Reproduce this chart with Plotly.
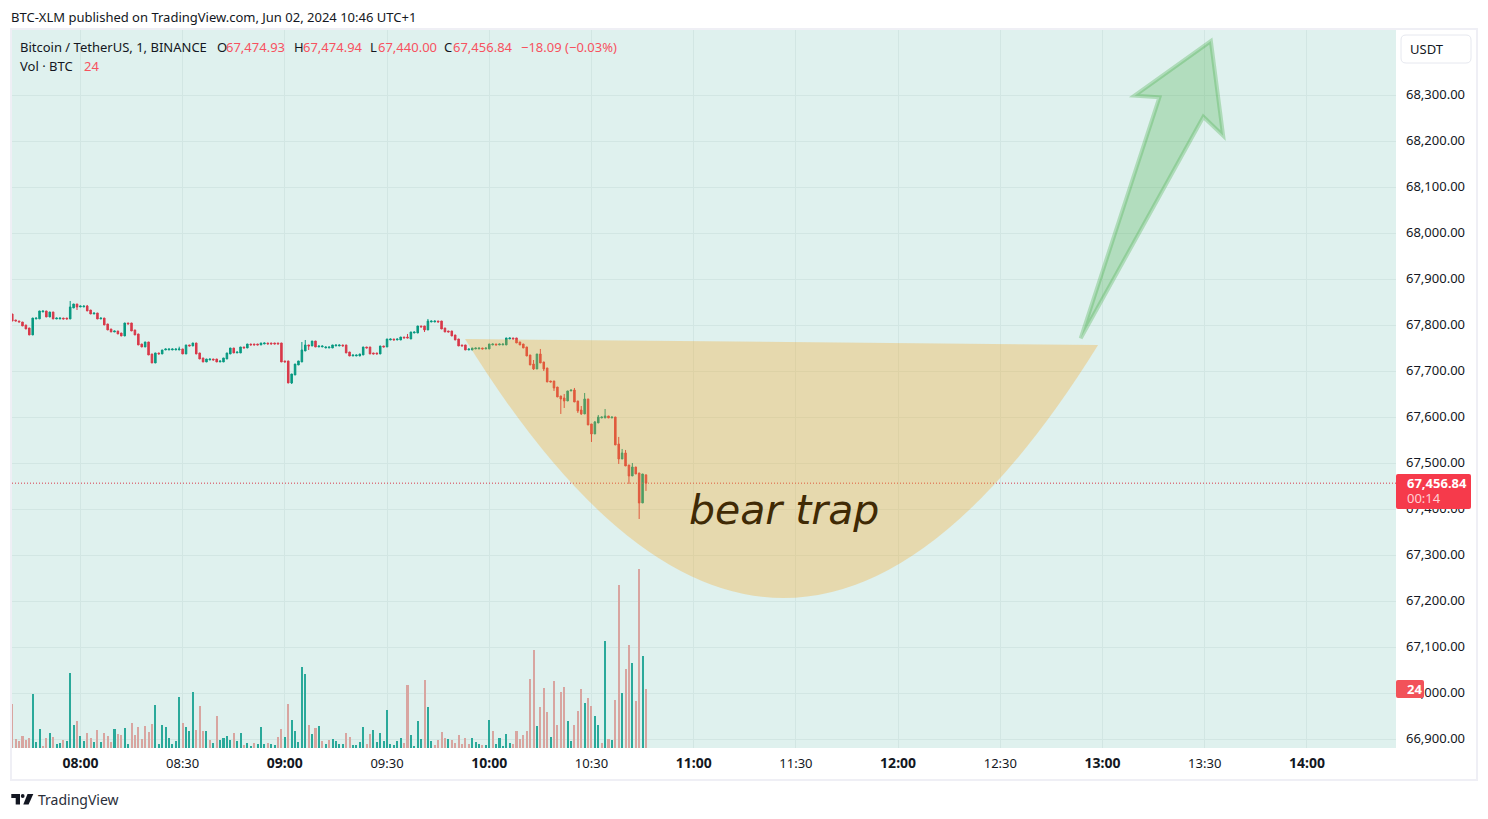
import plotly.graph_objects as go

# First bar is 07:40 (minute of day 460); one bar per minute
first_bar_minute = 460

open_prices = [
67824.6,67811.6,67809.4,67807.2,67800.7,67794.2,67779.0,67813.8,67814.0,67829.0,
67831.2,67818.1,67829.0,67813.8,67813.8,67815.9,67815.9,67813.8,67837.7,67846.4,
67839.9,67839.9,67842.0,67833.3,67824.6,67826.8,67813.8,67815.9,67802.9,67792.0,
67785.5,67787.7,67783.3,67776.8,67805.1,67805.1,67789.9,67781.2,67759.4,67752.9,
67763.8,67737.7,67718.1,67739.9,67737.7,67746.4,67746.4,67746.4,67746.4,67746.4,
67748.6,67737.7,67757.3,67755.1,67761.6,67739.9,67729.0,67720.3,67724.6,67726.8,
67726.8,67720.3,67720.3,67726.8,67737.7,67750.7,67739.9,67739.9,67752.9,67750.7,
67759.4,67759.4,67759.4,67757.3,67759.4,67761.6,67761.6,67761.6,67761.6,67761.6,
67722.5,67722.5,67674.6,67692.0,67713.8,67720.3,67744.2,67757.3,67755.1,67765.9,
67752.9,67752.9,67750.7,67750.7,67750.7,67755.1,67755.1,
67757.3,67757.3,67742.0,67733.3,67733.3,67733.3,67735.5,67752.9,67752.9,67739.9,
67739.9,67737.7,67755.1,67752.9,67768.1,67770.3,67768.1,67768.1,67774.6,67774.6,
67770.3,67783.3,67783.3,67798.6,67798.6,67789.9,67807.2,67807.2,67809.4,67809.4,
67794.2,67787.7,67787.7,67779.0,67770.3,67757.3,67757.3,67746.4,67746.4,67748.6,
67748.6,67750.7,67748.6,67748.6,67757.3,67759.4,67757.3,67757.3,67757.3,67770.3,
67772.5,67772.5,67763.8,67759.4,67752.9,67735.5,67715.9,67705.1,67737.7,67720.3,
67707.3,67679.0,67679.0,67665.9,67646.4,67642.0,67635.5,67657.3,67659.4,67635.5,
67616.0,67607.3,67639.9,67585.5,67563.8,67587.7,67598.6,67598.6,67602.9,67598.6,
67600.7,67542.0,67509.4,67522.5,67496.4,67472.5,67492.0,67479.0,67413.8,67474.93]

close_prices = [
67809.4,67809.4,67807.2,67798.6,67792.0,67779.0,67815.9,67815.9,67831.2,67831.2,
67818.1,67829.0,67813.8,67815.9,67815.9,67813.8,67813.8,67839.9,67846.4,67839.9,
67842.0,67842.0,67831.2,67824.6,67826.8,67813.8,67815.9,67800.7,67789.9,67785.5,
67787.7,67781.2,67776.8,67805.1,67802.9,67787.7,67779.0,67757.3,67752.9,67763.8,
67735.5,67718.1,67739.9,67737.7,67746.4,67748.6,67748.6,67748.6,67748.6,67748.6,
67737.7,67757.3,67755.1,67761.6,67737.7,67726.8,67720.3,67726.8,67726.8,67724.6,
67720.3,67722.5,67729.0,67739.9,67750.7,67739.9,67742.0,67752.9,67750.7,67759.4,
67757.3,67757.3,67757.3,67761.6,67761.6,67759.4,67759.4,67759.4,67759.4,67720.3,
67720.3,67674.6,67694.2,67715.9,67722.5,67746.4,67757.3,67755.1,67765.9,67752.9,
67755.1,67755.1,67752.9,67752.9,67757.3,67757.3,67757.3,
67755.1,67739.9,67733.3,67735.5,67735.5,67737.7,67752.9,67750.7,67737.7,67737.7,
67737.7,67755.1,67752.9,67770.3,67770.3,67768.1,67770.3,67774.6,67772.5,67772.5,
67785.5,67785.5,67798.6,67796.4,67789.9,67809.4,67809.4,67809.4,67807.2,67792.0,
67785.5,67785.5,67776.8,67768.1,67755.1,67755.1,67746.4,67748.6,67750.7,67750.7,
67750.7,67748.6,67750.7,67759.4,67759.4,67757.3,67759.4,67759.4,67772.5,67772.5,
67770.3,67761.6,67757.3,67750.7,67733.3,67713.8,67705.1,67737.7,67718.1,67705.1,
67676.8,67676.8,67663.8,67644.2,67639.9,67635.5,67657.3,67659.4,67633.3,67613.8,
67607.3,67639.9,67583.3,67563.8,67589.9,67600.7,67600.7,67602.9,67598.6,67600.7,
67539.9,67509.4,67522.5,67494.2,67472.5,67492.0,67476.8,67413.8,67476.8,67456.84]

# wicks that stick out of the body: bar index -> price
upper_wicks = {17:67852.9,22:67844.2,49:67753.6,85:67763.8,86:67768.1,116:67781.2,
122:67813.8,153:67724.6,155:67748.6,162:67650.7,165:67663.8,167:67624.6,168:67652.9,
171:67592.0,172:67605.1,174:67618.1,178:67557.3,179:67531.2,180:67529.0,182:67500.7}
lower_wicks = {19:67833.3,82:67672.5,87:67746.4,121:67785.5,153:67702.9,156:67700.7,
159:67657.3,161:67607.3,162:67620.3,166:67609.4,167:67605.1,170:67546.4,178:67498.6,
181:67455.1,184:67379.0,186:67440.0}

volumes = [
17.9,3.7,2.8,4.9,3.3,4.1,22.0,2.4,7.7,0.8,4.1,6.1,4.5,1.6,2.0,3.3,2.8,30.5,9.3,11.0,
4.9,2.8,6.1,4.1,2.4,7.3,2.4,6.1,4.9,2.4,7.7,5.7,5.3,8.1,1.6,10.2,5.3,8.5,3.7,8.9,
6.5,9.8,17.5,1.6,9.3,8.5,4.1,1.6,2.8,20.7,10.2,8.5,6.9,22.8,7.3,17.1,6.9,6.9,3.3,2.0,
13.0,3.3,4.1,4.9,3.3,6.1,2.8,6.1,1.2,2.0,0.8,2.0,1.6,8.5,1.6,2.0,1.6,1.2,4.5,7.7,
4.5,17.9,11.4,6.9,2.4,32.9,30.1,9.3,5.7,8.1,8.9,2.8,1.6,3.3,3.7,2.8,1.6,
1.6,6.1,4.5,1.2,1.2,2.4,8.5,1.6,5.7,7.3,2.4,6.1,2.8,15.4,1.6,1.2,2.8,4.1,2.0,25.6,
5.3,0.8,11.0,3.7,27.6,16.7,2.8,1.2,3.3,6.5,4.1,3.7,3.3,2.0,5.3,1.6,4.1,1.6,4.1,2.4,
1.6,1.2,1.2,11.4,6.9,1.6,4.1,0.8,5.7,2.0,1.6,6.9,3.7,5.3,6.9,28.0,39.8,8.9,16.7,24.4,
14.6,4.5,27.2,9.3,22.8,24.8,11.0,2.8,9.3,15.0,24.0,18.3,20.3,17.1,13.0,9.3,2.0,43.5,3.7,3.3,
19.5,66.3,22.4,32.1,41.9,34.6,19.1,72.8,37.4,24.0]

# indices of the volume bars drawn in green
volume_green_bars = {6,7,8,11,13,14,16,17,18,20,21,24,26,30,33,34,42,43,44,45,46,47,48,49,51,52,53,57,59,
 61,62,63,64,66,67,69,70,72,73,74,76,77,80,82,83,84,85,86,88,90,92,94,95,96,97,100,101,102,103,
 106,107,108,109,110,111,112,113,114,117,118,119,120,122,123,128,135,136,137,139,140,142,143,144,145,146,
 154,158,163,164,168,171,172,174,176,179,182,185}

price_ticks = [66900,67000,67100,67200,67300,67400,67500,67600,67700,67800,67900,68000,68100,68200,68300]
time_tick_minutes = [480,510,540,570,600,630,660,690,720,750,780,810,840]
hour_style = '<span style="font-size:14px"><b>%s</b></span>'
time_tick_labels = [hour_style % "08:00","08:30",hour_style % "09:00","09:30",hour_style % "10:00","10:30",
                    hour_style % "11:00","11:30",hour_style % "12:00","12:30",hour_style % "13:00","13:30",
                    hour_style % "14:00"]

# Drawings: (minute of day, price)
bowl_start = (592.9, 67770.2)
bowl_control = (685.9, 66650.7)
bowl_end = (778.7, 67757.2)
arrow_points = [(773.6,67771.7),(796.7,68295.7),(789.4,68299.1),(811.8,68418.0),(815.4,68212.2),(809.6,68253.5)]
last_price = 67456.84

bar_minutes = [first_bar_minute + i for i in range(len(close_prices))]
highs = [max(o, c, upper_wicks.get(i, 0)) for i, (o, c) in enumerate(zip(open_prices, close_prices))]
lows = [min(o, c, lower_wicks.get(i, 1e9)) for i, (o, c) in enumerate(zip(open_prices, close_prices))]

TEXT = "Noto Sans"
DARK = "#131722"
GRID = "#d2e6e3"

L, R, T, B = 12, 1396, 30, 748
def xp(px): return (px - L) / (R - L)
def yp(py): return (B - py) / (B - T)

def rounded(x0, y0, x1, y1, r):
    a, b, c, d = xp(x0), xp(x1), yp(y0), yp(y1)
    rx = r / (R - L); ry = r / (B - T)
    return (f"M {a+rx} {c} L {b-rx} {c} Q {b} {c} {b} {c-ry} L {b} {d+ry} Q {b} {d} {b-rx} {d} "
            f"L {a+rx} {d} Q {a} {d} {a} {d+ry} L {a} {c-ry} Q {a} {c} {a+rx} {c} Z")

def poly(points):
    return "M " + " L ".join(f"{xp(x)} {yp(y)}" for x, y in points) + " Z"

fig = go.Figure()
fig.add_trace(go.Bar(
    x=bar_minutes, y=volumes, width=0.6, yaxis="y2",
    marker=dict(color=["#2aa99a" if i in volume_green_bars else "#d8a5a0" for i in range(len(volumes))], line_width=0),
    hoverinfo="skip"))
fig.add_trace(go.Candlestick(
    x=bar_minutes, open=open_prices, high=highs, low=lows, close=close_prices,
    increasing=dict(line=dict(color="#089981", width=1), fillcolor="#089981"),
    decreasing=dict(line=dict(color="#d8394a", width=1), fillcolor="#d8394a"),
    whiskerwidth=0))

shapes = [
    dict(type="line", xref="x", yref="y", x0=459.92, x1=866.14, y0=last_price, y1=last_price,
         line=dict(color="#d8394a", width=1, dash="1px,2px"), layer="above"),
    dict(type="path", xref="x", yref="y", layer="above", line_width=0, fillcolor="rgba(244,166,32,0.31)",
         path=f"M {bowl_start[0]} {bowl_start[1]} Q {bowl_control[0]} {bowl_control[1]} {bowl_end[0]} {bowl_end[1]} Z"),
    dict(type="path", xref="x", yref="y", layer="above", fillcolor="rgba(76,175,80,0.3)",
         line=dict(color="rgba(76,175,80,0.33)", width=4),
         path="M " + " L ".join(f"{x} {y}" for x, y in arrow_points) + " Z"),
    dict(type="rect", xref="paper", yref="paper", x0=xp(11), x1=xp(1477), y0=yp(780), y1=yp(29),
         line=dict(color="#efeff5", width=2), layer="below"),
    dict(type="path", xref="paper", yref="paper", path=rounded(1401, 35, 1471, 63, 5),
         line=dict(color="#e6e8ef", width=1), fillcolor="white"),
    dict(type="path", xref="paper", yref="paper", path=rounded(1396, 474, 1471, 509, 2),
         line_width=0, fillcolor="#f63a4b"),
    dict(type="path", xref="paper", yref="paper", path=rounded(1396, 680, 1424, 698, 2),
         line_width=0, fillcolor="#f25259"),
    dict(type="path", xref="paper", yref="paper", line_width=0, fillcolor="#131722",
         path=poly([(11.3,794),(20,794),(20,804.5),(15.7,804.5),(15.7,798),(11.3,798)])),
    dict(type="circle", xref="paper", yref="paper", line_width=0, fillcolor="#131722",
         x0=xp(20.8), x1=xp(24.6), y0=yp(797.9), y1=yp(794.1)),
    dict(type="path", xref="paper", yref="paper", line_width=0, fillcolor="#131722",
         path=poly([(27.5,794),(33.3,794),(28.6,804.5),(23.3,804.5)])),
]

RED = "#f7525f"
def label(text, x, y, color=DARK, size=13, anchor="left", family=TEXT):
    return dict(text=text, xref="paper", yref="paper", x=xp(x), y=yp(y), xanchor=anchor, yanchor="middle",
                showarrow=False, borderpad=0, font=dict(family=family, size=size, color=color))

annotations = [
    label("BTC-XLM published on TradingView.com, Jun 02, 2024 10:46 UTC+1", 10, 17),
    label("Bitcoin / TetherUS, 1, BINANCE", 19, 47.5),
    label("O", 216, 47.5), label("67,474.93", 225, 47.5, RED),
    label("H", 293, 47.5), label("67,474.94", 302, 47.5, RED),
    label("L", 369, 47.5), label("67,440.00", 377, 47.5, RED),
    label("C", 443, 47.5), label("67,456.84", 452, 47.5, RED),
    label("−18.09 (−0.03%)", 520, 47.5, RED),
    label("Vol · BTC", 19, 66), label("24", 83, 66, RED),
    label("USDT", 1427, 49, anchor="center"),
    label("<b>67,456.84</b>", 1437, 482.5, "#ffffff", anchor="center"),
    label("00:14", 1424, 498, "#ffd0d4", anchor="center"),
    label("<b>24</b>", 1414, 689, "#ffffff", anchor="center"),
    label("TradingView", 37, 799, "#2a2e39", size=14),
    dict(text="<i>bear trap</i>", xref="x", yref="y", x=686.4, y=67398.5, showarrow=False, borderpad=0,
         xanchor="center", yanchor="middle", font=dict(family="DejaVu Sans", size=41, color="#402a05")),
]

fig.update_layout(
    width=1488, height=819, autosize=False,
    margin=dict(l=L, r=1488 - R, t=T, b=819 - B, pad=0),
    paper_bgcolor="white", plot_bgcolor="#dff1ee", showlegend=False,
    boxgap=0.36, bargap=0, shapes=shapes, annotations=annotations,
    font=dict(family=TEXT, size=13, color=DARK),
    xaxis=dict(range=[459.92, 866.14], tickmode="array", tickvals=time_tick_minutes, ticktext=time_tick_labels,
               showgrid=True, gridcolor=GRID, gridwidth=1, zeroline=False, showline=False, ticks="",
               rangeslider=dict(visible=False), ticklabelstandoff=6, tickfont=dict(family=TEXT, size=13, color=DARK)),
    yaxis=dict(range=[66881.1, 68442.0], side="right", tickmode="array", tickvals=price_ticks,
               tickformat=",.2f", showgrid=True, gridcolor=GRID, gridwidth=1, zeroline=False, showline=False,
               ticks="", ticklabelstandoff=9, ticklabelshift=-1, tickfont=dict(family=TEXT, size=13, color=DARK)),
    yaxis2=dict(range=[0, 291.9], overlaying="y", visible=False, showgrid=False, side="left"),
)
fig.write_html("out.html", config=dict(displayModeBar=False),
               post_script="document.body.style.margin='0';")
